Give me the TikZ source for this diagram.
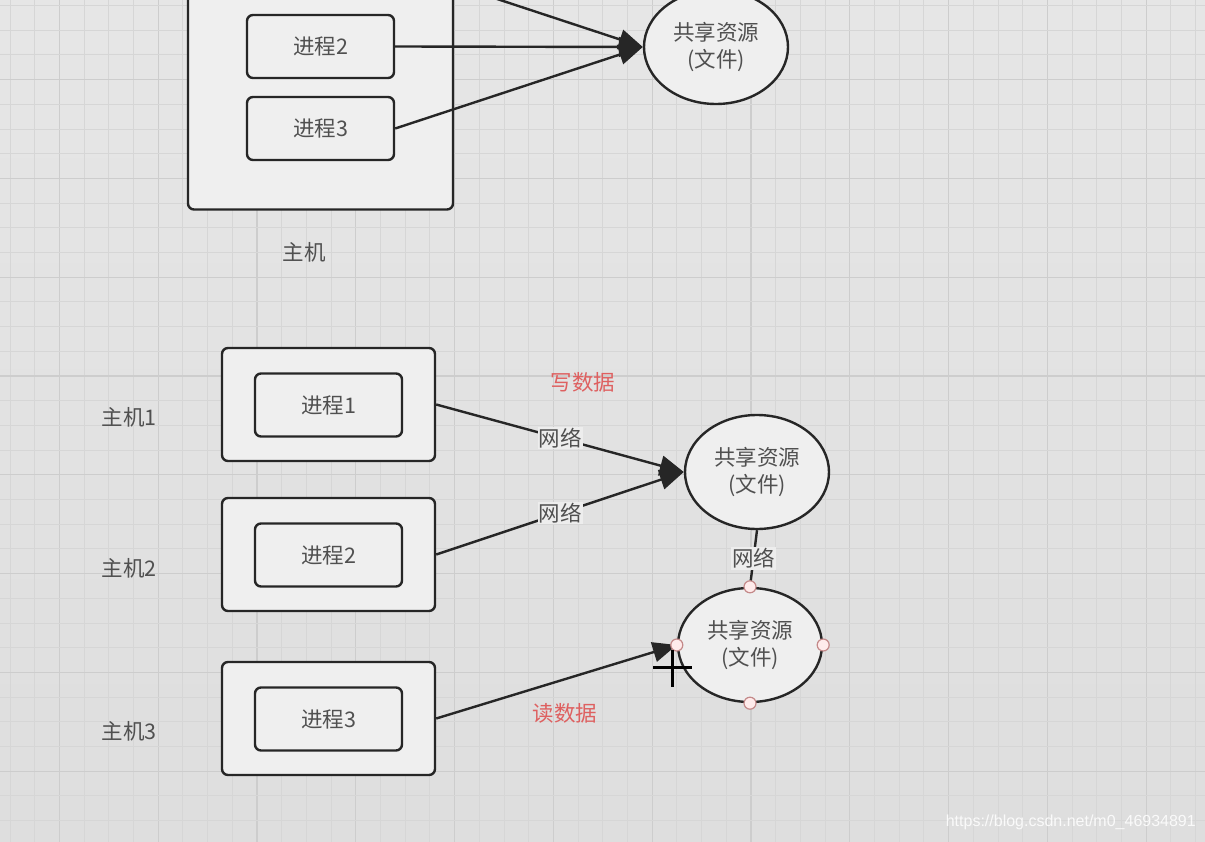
\documentclass[tikz,border=0pt]{standalone}
\usepackage{fontspec}
\newfontfamily\cjk{Noto Sans CJK SC}
\newfontfamily\wmfont{Liberation Sans}
\usetikzlibrary{arrows.meta,shapes.geometric}
\definecolor{bgtop}{HTML}{E6E6E6}
\definecolor{bgmid}{HTML}{F3F3F3}
\definecolor{bgbot}{HTML}{DEDEDE}
\definecolor{gridminor}{HTML}{D6D6D6}
\definecolor{gridmajor}{HTML}{CDCDCD}
\definecolor{linec}{HTML}{262626}
\definecolor{boxfill}{HTML}{EFEFEF}
\definecolor{txt}{HTML}{505050}
\definecolor{redtxt}{RGB}{222,96,96}
\definecolor{labelbg}{HTML}{EDEDED}
\definecolor{handlec}{HTML}{C48A8A}
\tikzset{
  cjkfont/.style={font=\cjk\fontsize{21.5}{27}\selectfont},
  procbox/.style={draw=linec, line width=2.4pt, rounded corners=6pt, fill=boxfill,
    minimum width=147pt, minimum height=63pt, inner sep=0pt, cjkfont, text=txt},
  hostbox/.style={draw=linec, line width=2.4pt, rounded corners=6pt, fill=boxfill,
    minimum width=213pt, minimum height=113pt, inner sep=0pt},
  bighost/.style={draw=linec, line width=2.4pt, rounded corners=6pt, fill=boxfill,
    minimum width=265pt, minimum height=231pt, inner sep=0pt},
  resnode/.style={ellipse, draw=linec, line width=2.4pt, fill=boxfill,
    minimum width=144pt, minimum height=114pt, inner sep=0pt, align=center, cjkfont, text=txt},
  plainlabel/.style={cjkfont, text=txt, inner sep=0pt},
  redlabel/.style={cjkfont, text=redtxt, inner sep=0pt},
  netlabel/.style={cjkfont, text=txt, fill=labelbg, inner sep=1pt},
  arr/.style={draw=linec, line width=2.4pt, -{Triangle[length=24pt,width=20pt]}},
  plainline/.style={draw=linec, line width=2.4pt},
  handle/.style={draw=handlec, fill=white!92!red, line width=1.2pt},
  gminor/.style={draw=gridminor, line width=0.9pt},
  gmajor/.style={draw=gridmajor, line width=1.3pt},
}
\begin{document}
\begin{tikzpicture}[x=1pt,y=-1pt]
\useasboundingbox (0,0) rectangle (1205,842);
\clip (0,0) rectangle (1205,842);
% background
\shade[top color=bgtop, middle color=bgmid, bottom color=bgbot] (0,0) rectangle (1205,842);
\foreach \i in {0,...,48} {
  \pgfmathsetmacro\xx{10+24.7*\i}
  \pgfmathtruncatemacro\mm{mod(\i,4)}
  \ifnum\mm=2
    \draw[gmajor] (\xx,0) -- (\xx,842);
  \else
    \draw[gminor] (\xx,0) -- (\xx,842);
  \fi
}
\foreach \i in {0,...,34} {
  \pgfmathsetmacro\yy{5.5+24.7*\i}
  \pgfmathtruncatemacro\mm{mod(\i,4)}
  \ifnum\mm=3
    \draw[gmajor] (0,\yy) -- (1205,\yy);
  \else
    \draw[gminor] (0,\yy) -- (1205,\yy);
  \fi
}

% ---------- top part ----------
\node[bighost] (h0) at (320.5,94) {};
\coordinate (p1top) at (394,-35);
\node[procbox] (p2top) at (320.5,46.5) {进程2};
\node[procbox] (p3top) at (320.5,128.5) {进程3};
\node[resnode] (e0) at (716,47) {共享资源\\(文件)};
\node[plainlabel] (h0lab) at (304,252) {主机};
\draw[arr] (p1top) -- (e0.west);
\draw[arr] (p2top.east) -- (e0.west);
\draw[arr] (p3top.east) -- (e0.west);

% ---------- bottom part ----------
\node[hostbox] (h1) at (328.5,404.5) {};
\node[hostbox] (h2) at (328.5,554.5) {};
\node[hostbox] (h3) at (328.5,718.5) {};
\node[procbox] (p1) at (328.5,405) {进程1};
\node[procbox] (p2) at (328.5,555) {进程2};
\node[procbox] (p3) at (328.5,719) {进程3};
\node[plainlabel] (l1) at (129,417) {主机1};
\node[plainlabel] (l2) at (129,568) {主机2};
\node[plainlabel] (l3) at (129,731) {主机3};

\node[resnode] (e1) at (757,472) {共享资源\\(文件)};
\node[resnode] (e2) at (750,645) {共享资源\\(文件)};

\draw[arr] (h1.east) -- node[netlabel, pos=0.5] {网络} (e1.west);
\draw[arr] (h2.east) -- node[netlabel, pos=0.5] {网络} (e1.west);
\draw[plainline] (e1.south) -- node[netlabel, pos=0.5] {网络} (e2.north);
\draw[arr] (h3.east) -- (e2.west);

\node[redlabel] (wr) at (583,382) {写数据};
\node[redlabel] (rd) at (565,713) {读数据};

\foreach \a in {north,south,east,west} {
  \draw[handle] (e2.\a) circle (6pt);
}

% mouse cursor
\draw[black, line width=3pt] (653,667) -- (692,667);
\draw[black, line width=3pt] (672,650) -- (672,687);

% watermark
\node[anchor=east, text=white, opacity=0.85, font=\wmfont\fontsize{16}{18}\selectfont, inner sep=0pt] (wm) at (1196,822) {https://blog.csdn.net/m0\_46934891};
\end{tikzpicture}
\end{document}
